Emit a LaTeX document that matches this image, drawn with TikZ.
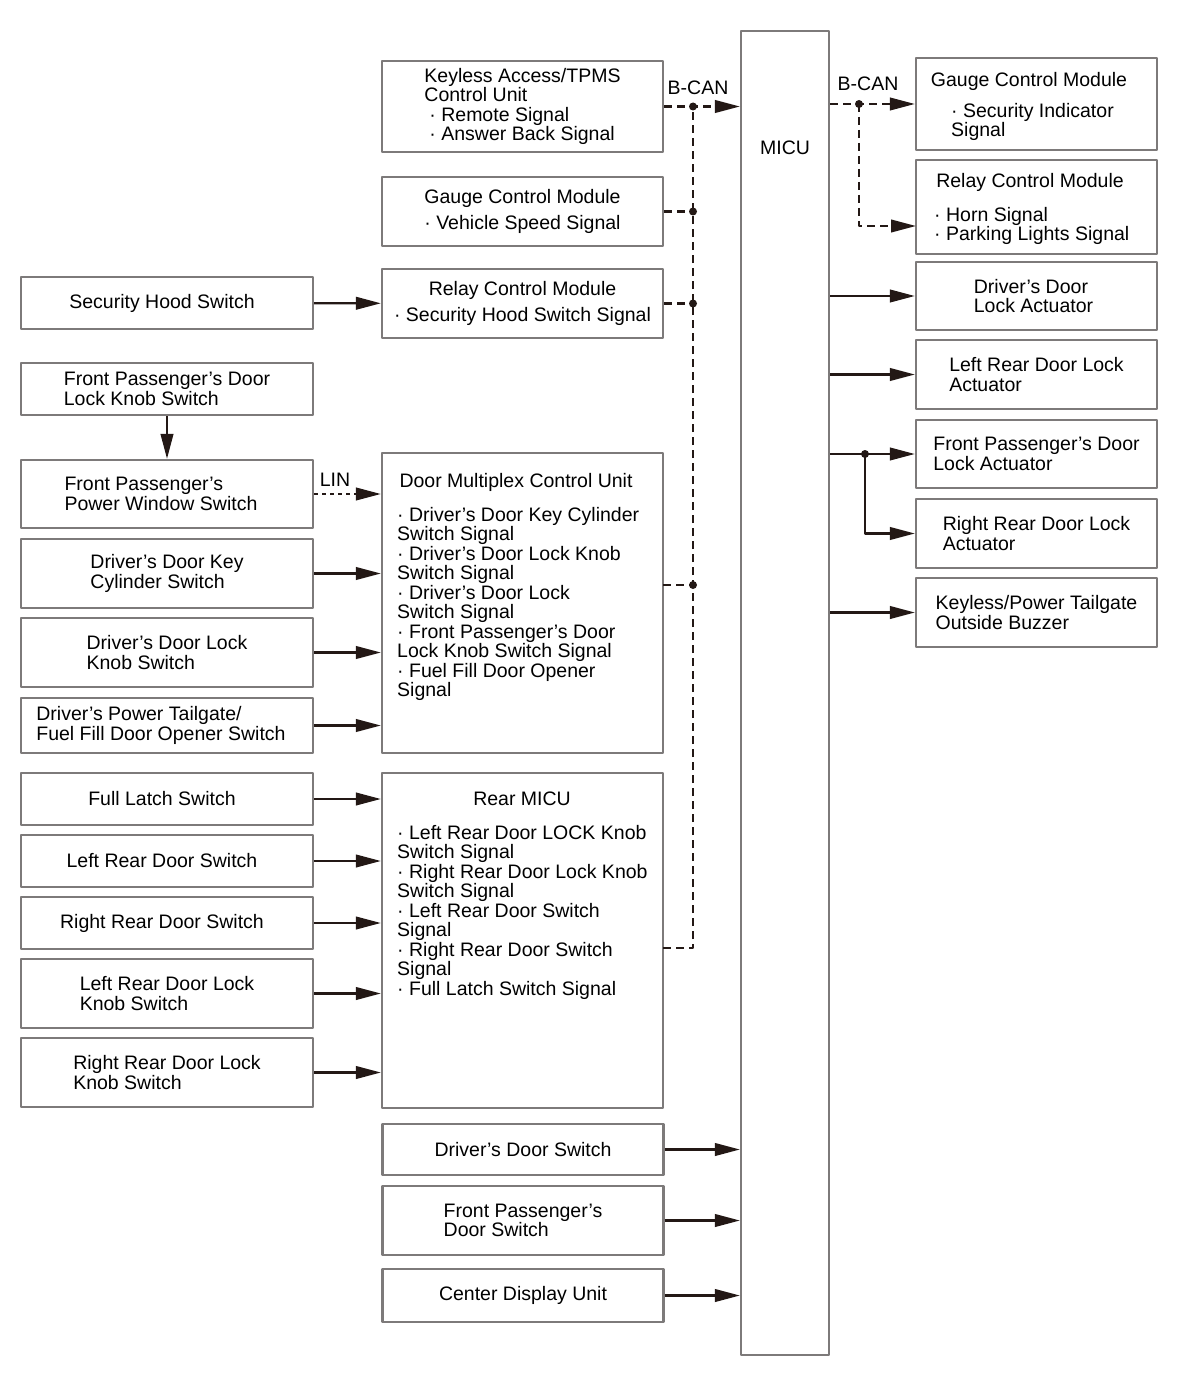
\documentclass[tikz,border=0pt]{standalone}
\usepackage{fontspec}
\setmainfont{Liberation Sans}
\usetikzlibrary{arrows.meta}
\definecolor{ink}{RGB}{35,24,21}
\definecolor{frame}{RGB}{125,122,122}
\begin{document}
\begin{tikzpicture}[x=1pt,y=-1pt,line join=round,>={Triangle[length=25pt,width=12.5pt]},
	every node/.style={font=\fontsize{19.5}{19.5}\selectfont,inner sep=0pt},
	box/.style={draw=frame,line width=2.2pt,fill=white,align=left},
	lbox/.style={box,minimum width=292pt},
	mbox/.style={box,minimum width=281pt},
	rbox/.style={box,minimum width=241pt},
	wire/.style={draw=ink,line width=2.4pt},
	can/.style={wire,dash pattern=on 8pt off 5pt},
	lin/.style={wire,dash pattern=on 4pt off 4pt},
	dot/.style={fill=ink,circle,minimum size=8pt}]
	\useasboundingbox (0,0) rectangle (1200,1380);
	% MICU
	\node[box,minimum width=88pt,minimum height=1324pt] (micu) at (785,693) {};
	\node (micutext) at (785,148) {MICU};
	% middle column
	\node[mbox,minimum height=91pt] (keyless) at (522.5,106.5) {Keyless Access/TPMS\\Control Unit\\\hspace*{5pt}· Remote Signal\\\hspace*{5pt}· Answer Back Signal};
	\node[mbox,minimum height=69pt,align=center] (gaugeM) at (522.5,211.5) {Gauge Control Module\\[6.5pt]· Vehicle Speed Signal};
	\node[mbox,minimum height=69pt,align=center] (relayM) at (522.5,303.5) {Relay Control Module\\[6.5pt]· Security Hood Switch Signal};
	\node[mbox,minimum height=300pt] (dmcu) at (522.5,603) {};
	\node[anchor=base] (dmcutitle) at (516,487) {Door Multiplex Control Unit};
	\node[anchor=north west,align=left] (dmculist) at (397,507) {· Driver’s Door Key Cylinder\\Switch Signal\\· Driver’s Door Lock Knob\\Switch Signal\\· Driver’s Door Lock\\Switch Signal\\· Front Passenger’s Door\\Lock Knob Switch Signal\\· Fuel Fill Door Opener\\Signal};
	\node[mbox,minimum height=335pt] (rmicu) at (522.5,940.5) {};
	\node[anchor=base] (rmicutitle) at (522,805) {Rear MICU};
	\node[anchor=north west,align=left] (rmiculist) at (397,825) {· Left Rear Door LOCK Knob\\Switch Signal\\· Right Rear Door Lock Knob\\Switch Signal\\· Left Rear Door Switch\\Signal\\· Right Rear Door Switch\\Signal\\· Full Latch Switch Signal};
	\node[mbox,minimum height=51pt] (dds) at (523,1149.5) {Driver’s Door Switch};
	\node[mbox,minimum height=69pt] (fpds) at (523,1220.5) {Front Passenger’s\\Door Switch};
	\node[mbox,minimum height=53pt] (cdu) at (523,1295.5) {Center Display Unit};
	% left column
	\node[lbox,minimum height=52pt] (shs) at (167,303) {Security Hood Switch\hspace*{10pt}};
	\node[lbox,minimum height=52pt] (fpdlks) at (167,389) {Front Passenger’s Door\\Lock Knob Switch};
	\node[lbox,minimum height=68pt] (fppws) at (167,494) {Front Passenger’s\\Power Window Switch\hspace*{12pt}};
	\node[lbox,minimum height=69pt] (ddkcs) at (167,573.5) {Driver’s Door Key\\Cylinder Switch\hspace*{8pt}};
	\node[lbox,minimum height=69pt] (ddlks) at (167,652.5) {Driver’s Door Lock\\Knob Switch\hspace*{8pt}};
	\node[lbox,minimum height=55pt] (dptg) at (167,725.5) {Driver’s Power Tailgate/\\Fuel Fill Door Opener Switch\hspace*{12pt}};
	\node[lbox,minimum height=52pt] (fls) at (167,799) {Full Latch Switch\hspace*{10pt}};
	\node[lbox,minimum height=52pt] (lrds) at (167,861) {Left Rear Door Switch\hspace*{10pt}};
	\node[lbox,minimum height=52pt] (rrds) at (167,923) {Right Rear Door Switch\hspace*{10pt}};
	\node[lbox,minimum height=69pt] (lrdlks) at (167,993.5) {Left Rear Door Lock\\Knob Switch};
	\node[lbox,minimum height=69pt] (rrdlks) at (167,1072.5) {Right Rear Door Lock\\Knob Switch};
	% right column
	\node[rbox,minimum height=92pt] (gaugeR) at (1036.5,104) {};
	\node[anchor=base] (gaugeRtitle) at (1029,87) {Gauge Control Module};
	\node[anchor=north west,align=left] (gaugeRlist) at (951,103) {· Security Indicator\\Signal};
	\node[rbox,minimum height=94pt] (relayR) at (1036.5,207) {};
	\node[anchor=base] (relayRtitle) at (1030,188) {Relay Control Module};
	\node[anchor=north west,align=left] (relayRlist) at (934,207) {· Horn Signal\\· Parking Lights Signal};
	\node[rbox,minimum height=68pt] (ddla) at (1036.5,296) {Driver’s Door\\Lock Actuator\hspace*{6pt}};
	\node[rbox,minimum height=69pt] (lrdla) at (1036.5,374.5) {Left Rear Door Lock\\Actuator};
	\node[rbox,minimum height=68pt] (fpdla) at (1036.5,454) {Front Passenger’s Door\\Lock Actuator};
	\node[rbox,minimum height=69pt] (rrdla) at (1036.5,533.5) {Right Rear Door Lock\\Actuator};
	\node[rbox,minimum height=69pt] (kptb) at (1036.5,612.5) {Keyless/Power Tailgate\\Outside Buzzer};
	% B-CAN left
	\coordinate (busL) at (693,0);
	\coordinate (dcan) at (663,585);
	\coordinate (rcan) at (663,948);
	\draw[can,->] (keyless.east) -- (keyless.east -| micu.west);
	\draw[can] (rcan) -- (rcan -| busL) -- (busL |- keyless.east);
	\draw[can] (gaugeM.east) -- (gaugeM.east -| busL);
	\draw[can] (relayM.east) -- (relayM.east -| busL);
	\draw[can] (dcan) -- (dcan -| busL);
	\node[dot] (jk) at (busL |- keyless.east) {};
	\node[dot] (jg) at (busL |- gaugeM.east) {};
	\node[dot] (jr) at (busL |- relayM.east) {};
	\node[dot] (jd) at (busL |- dcan) {};
	\node (canL) at (698,88) {B-CAN};
	% B-CAN right
	\coordinate (busR) at (859,0);
	\coordinate (hcan) at (916,226);
	\draw[can,->] (micu.east |- gaugeR.west) -- (gaugeR.west);
	\draw[can,->] (busR |- gaugeR.west) |- (hcan);
	\node[dot] (jgr) at (busR |- gaugeR.west) {};
	\node (canR) at (868,84) {B-CAN};
	% MICU outputs
	\draw[wire,->] (micu.east |- ddla.west) -- (ddla.west);
	\draw[wire,->] (micu.east |- lrdla.west) -- (lrdla.west);
	\draw[wire,->] (micu.east |- fpdla.west) -- (fpdla.west);
	\draw[wire,->] (micu.east |- kptb.west) -- (kptb.west);
	\coordinate (brR) at (865,0);
	\draw[wire,->] (brR |- fpdla.west) |- (rrdla.west);
	\node[dot] (jfp) at (brR |- fpdla.west) {};
	% inputs
	\draw[wire,->] (shs) -- (relayM);
	\draw[wire,->] (fpdlks) -- (fppws);
	\draw[lin,->] (fppws.east) -- (fppws.east -| dmcu.west);
	\node (linlbl) at (335,480) {LIN};
	\foreach \s in {ddkcs,ddlks,dptg}
		\draw[wire,->] (\s.east) -- (\s.east -| dmcu.west);
	\foreach \s in {fls,lrds,rrds,lrdlks,rrdlks}
		\draw[wire,->] (\s.east) -- (\s.east -| rmicu.west);
	\foreach \s in {dds,fpds,cdu}
		\draw[wire,->] (\s.east) -- (\s.east -| micu.west);
\end{tikzpicture}
\end{document}
